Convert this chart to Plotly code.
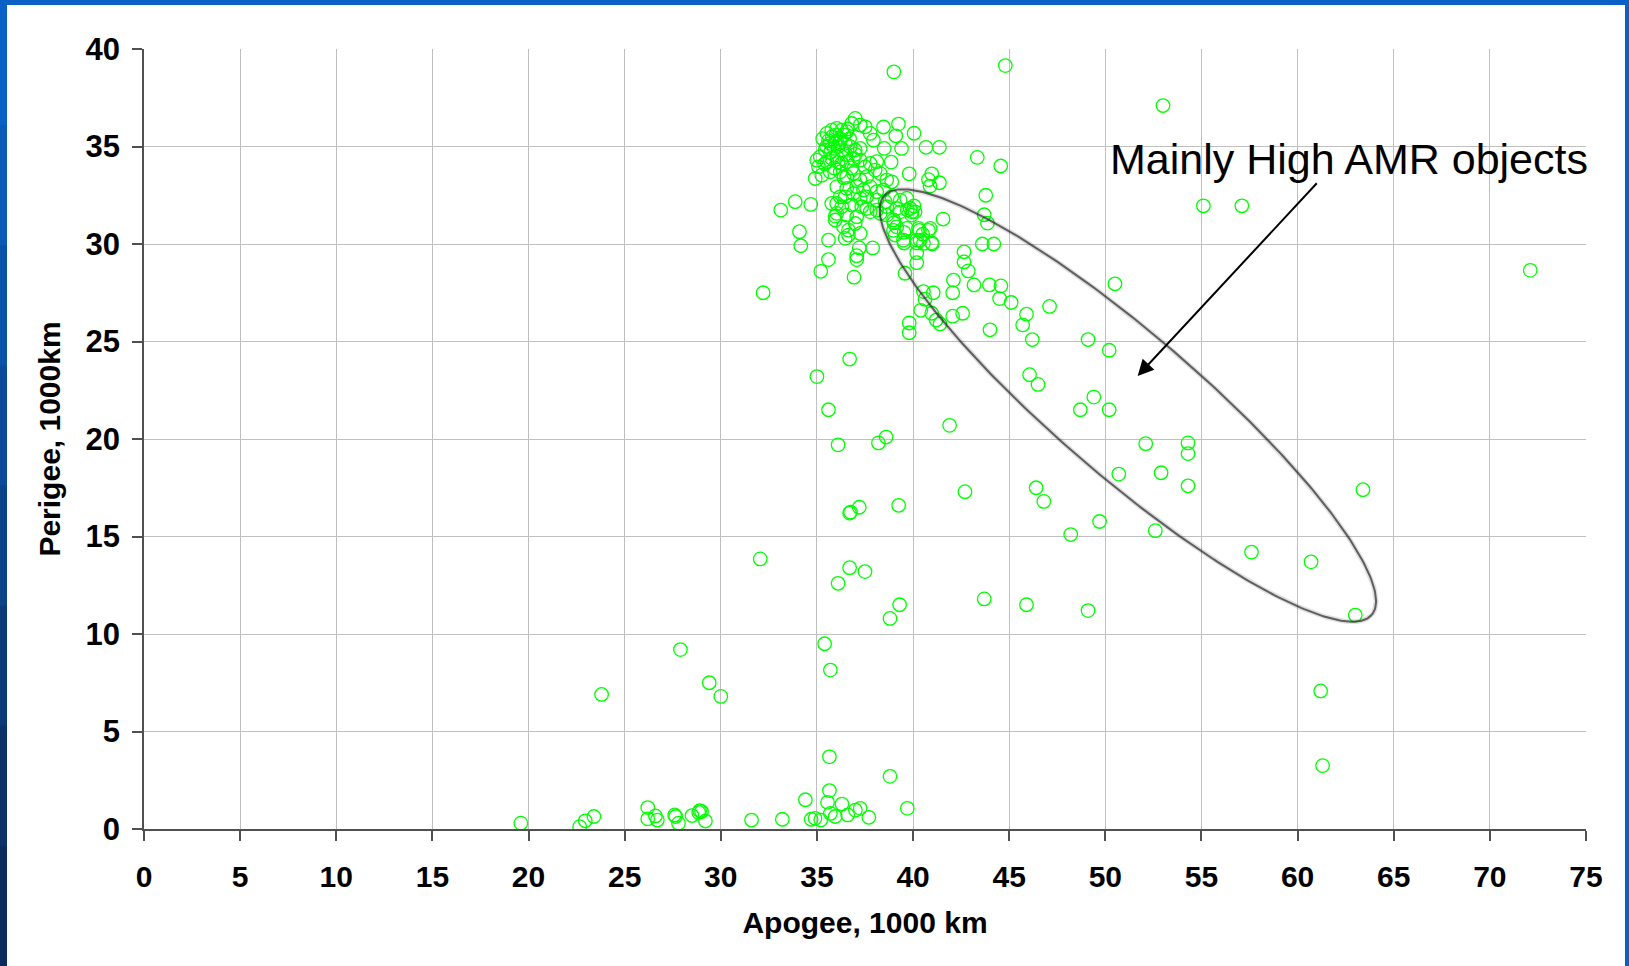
import math
import plotly.graph_objects as go

# ---------------- data (apogee, perigee in 1000 km) ----------------
apogee_low = [19.6, 22.66, 22.95, 23.4, 26.2, 26.2, 26.6, 26.7, 27.6, 27.65, 27.8, 28.5, 28.85, 28.9,
              29.0, 29.2, 31.6, 33.2, 34.4, 34.7, 34.9, 35.2, 35.7, 35.55, 35.65, 35.95, 36.3, 36.6,
              37.0, 37.25, 37.7, 38.8, 39.7, 35.65]
perigee_low = [0.3, 0.12, 0.42, 0.64, 1.1, 0.52, 0.67, 0.46, 0.72, 0.64, 0.3, 0.69, 0.85, 0.94,
               0.9, 0.41, 0.46, 0.5, 1.5, 0.5, 0.55, 0.46, 0.8, 1.37, 1.97, 0.64, 1.28, 0.72,
               0.97, 1.06, 0.6, 2.7, 1.06, 3.7]

apogee_mid = [23.8, 27.9, 29.4, 30.0, 35.4, 35.7, 32.05, 36.7, 37.5, 36.1, 39.3, 38.8, 43.7, 45.9,
              49.1, 61.2, 61.3, 63.0, 60.7, 57.6, 52.6, 49.7, 48.2, 63.4, 54.3, 52.9, 50.7, 54.3,
              54.3, 52.1, 50.2, 48.7, 49.4, 46.5, 46.06, 50.2, 49.1, 46.2, 45.7, 45.9, 44.0, 47.1,
              45.1, 50.5, 55.1, 57.1, 72.1, 53.0, 39.0, 44.8,
              36.7, 36.75, 37.2, 39.25, 42.7, 46.4, 46.8, 36.1, 38.2, 38.6, 41.9, 35.6, 35.0, 36.7,
              39.8, 39.8, 32.2]
perigee_mid = [6.9, 9.2, 7.5, 6.8, 9.5, 8.15, 13.85, 13.4, 13.2, 12.6, 11.5, 10.8, 11.8, 11.5,
               11.2, 7.08, 3.25, 10.97, 13.7, 14.2, 15.3, 15.77, 15.1, 17.4, 17.6, 18.27, 18.2, 19.25,
               19.8, 19.76, 21.5, 21.5, 22.15, 22.8, 23.3, 24.55, 25.1, 25.1, 25.85, 26.4, 25.6, 26.8,
               27.0, 27.96, 31.96, 31.96, 28.65, 37.1, 38.83, 39.15,
               16.2, 16.25, 16.5, 16.6, 17.3, 17.5, 16.8, 19.7, 19.8, 20.1, 20.7, 21.5, 23.2, 24.1,
               25.95, 25.45, 27.5]

apogee_ring = [33.12, 33.87, 34.68, 34.09, 34.16, 35.6, 35.6, 35.2, 36.93, 37.07, 37.07, 37.9, 37.2,
               39.24, 38.46, 39.1, 40.05, 38.5, 39.4, 40.67, 41.37, 38.86, 43.34, 44.56, 39.8, 40.97,
               41.37, 40.88, 40.8, 43.78, 43.7, 43.87, 41.56, 43.6, 44.2, 42.65, 42.65, 42.87, 42.1,
               43.17, 43.97, 44.57, 44.5, 42.06, 39.58, 40.19, 40.19, 40.19, 41.0, 40.5, 40.8, 40.33,
               40.36, 39.53, 39.53, 39.0, 38.98, 39.7, 40.1, 40.05, 40.54, 40.62, 40.4, 40.97, 41.2,
               41.4, 42.06, 42.58, 41.05]
perigee_ring = [31.74, 32.17, 32.03, 30.63, 29.91, 30.2, 29.2, 28.6, 28.3, 29.2, 29.4, 29.8, 29.8,
                36.15, 36.0, 35.55, 35.68, 34.9, 34.9, 34.96, 34.96, 34.2, 34.44, 34.0, 33.6, 33.6,
                33.14, 32.97, 33.3, 32.5, 31.5, 31.07, 31.28, 30.0, 30.0, 29.6, 29.08, 28.62, 28.15,
                27.9, 27.9, 27.85, 27.2, 27.5, 28.5, 29.04, 29.55, 30.05, 30.0, 30.5, 30.7, 30.7,
                30.2, 30.05, 30.6, 31.08, 30.7, 31.75, 31.65, 31.95, 27.56, 27.17, 26.6, 26.45, 26.1,
                25.9, 26.3, 26.45, 27.5]

apogee_core = [35.52, 35.77, 36.03, 36.29, 36.55, 36.81, 36.99, 37.25, 37.51, 37.77, 37.94,
               35.69, 35.95, 36.21, 36.47, 36.73, 36.99, 37.25,
               35.43, 35.17, 34.99, 35.08, 35.52, 35.77, 36.03, 36.29, 36.55, 36.9, 37.25, 37.51, 37.77, 38.11,
               34.91, 35.25, 35.69, 36.21, 36.55, 36.9, 37.25, 37.59, 38.03, 38.29, 38.63, 38.89,
               36.03, 36.55, 37.07, 37.42, 37.77, 38.11, 38.46,
               36.9, 37.25, 37.59, 38.11, 38.55, 38.89, 39.33, 39.67,
               36.03, 35.77, 36.29, 36.81, 37.33, 37.59, 38.11, 38.63, 39.15, 39.85,
               36.03, 36.55, 37.07, 37.77, 38.29, 38.63, 39.33, 39.93, 39.93,
               35.95, 36.38, 36.64, 36.99, 38.98, 39.15, 39.67, 39.07, 39.5, 40.28, 40.89, 40.19, 40.54,
               40.97, 36.47, 36.64, 37.25, 35.95, 36.47, 36.21,
               35.6, 35.8, 36.0, 36.2, 36.4, 35.9, 36.1, 35.7, 36.3, 36.5, 35.5, 35.3, 36.7, 36.1,
               35.9, 35.4, 36.8, 36.4, 37.0, 36.6]
perigee_core = [35.67, 35.84, 35.93, 35.84, 35.76, 36.18, 36.44, 36.1, 36.01, 35.67, 35.33,
                35.16, 35.16, 35.24, 35.16, 34.99, 34.82, 34.9,
                34.82, 34.47, 34.3, 33.96, 34.22, 34.39, 34.47, 34.13, 34.22, 34.39, 34.3, 33.96, 34.13, 34.22,
                33.36, 33.53, 33.7, 33.7, 33.45, 33.62, 33.28, 33.45, 33.79, 33.62, 33.28, 33.19,
                32.94, 32.85, 32.94, 32.77, 32.94, 32.68, 32.77,
                32.59, 32.34, 32.42, 32.25, 32.17, 32.42, 32.25, 32.34,
                32.08, 32.08, 31.91, 32.0, 31.91, 31.82, 31.74, 31.91, 31.82, 31.82,
                31.57, 31.48, 31.4, 31.65, 31.57, 31.48, 31.65, 31.65, 31.48,
                31.23, 30.88, 30.71, 31.05, 31.23, 30.88, 30.8, 30.46, 30.2, 30.8, 30.8, 30.2, 30.03,
                30.06, 30.29, 30.46, 30.54, 31.43, 32.42, 32.42,
                35.3, 35.5, 35.6, 35.4, 35.6, 34.9, 35.0, 34.7, 34.8, 34.6, 35.0, 35.4, 35.4, 34.2,
                33.9, 34.1, 33.9, 33.4, 34.6, 35.9]

apogee = apogee_low + apogee_mid + apogee_ring + apogee_core
perigee = perigee_low + perigee_mid + perigee_ring + perigee_core

x_ticks = list(range(0, 80, 5))
y_ticks = list(range(0, 45, 5))

x_title = "Apogee, 1000 km"
y_title = "Perigee, 1000km"
note_text = "Mainly High AMR objects"

# ---------------- figure ----------------
W, H = 1629, 966
ML, MR, MT, MB = 144, 43, 49, 137
PW, PH = W - ML - MR, H - MT - MB

fig = go.Figure()

fig.add_trace(go.Scatter(
    x=apogee, y=perigee, mode="markers",
    marker=dict(symbol="circle-open", size=13.5, color="#00FF00", line=dict(width=1.3, color="#00FF00")),
    showlegend=False, hoverinfo="x+y",
))

# annotation ellipse (geometry in x-axis units; y scaled by pixel aspect)
ex_c, ey_c = 51.17, 21.72
ea, eb = 16.72, 3.69
eang = math.radians(40.65)
px_per_x = PW / 75.0
px_per_y = PH / 40.0
ex, ey = [], []
for i in range(361):
    t = math.radians(i)
    dx = ea * math.cos(t) * math.cos(eang) - eb * math.sin(t) * math.sin(eang)
    dy = ea * math.cos(t) * math.sin(eang) + eb * math.sin(t) * math.cos(eang)
    ex.append(ex_c + dx)
    ey.append(ey_c - dy * px_per_x / px_per_y)
fig.add_trace(go.Scatter(x=ex, y=ey, mode="lines", line=dict(color="rgba(0,0,0,0.12)", width=5),
                         showlegend=False, hoverinfo="skip"))
fig.add_trace(go.Scatter(x=ex, y=ey, mode="lines", line=dict(color="rgba(40,40,40,0.7)", width=2),
                         showlegend=False, hoverinfo="skip"))

axis_common = dict(
    showgrid=True, gridcolor="#C0C0C0", gridwidth=1,
    showline=True, linecolor="#505050", linewidth=1.5,
    ticks="outside", ticklen=10, tickcolor="#505050", tickwidth=1.5,
    zeroline=False,
)

fig.update_xaxes(
    range=[0, 75], tickvals=x_ticks, ticktext=[str(v) for v in x_ticks],
    tickfont=dict(family="Arial, Liberation Sans", size=30, color="black", weight="bold"),
    ticklabelstandoff=10,
    title=dict(text=x_title, font=dict(family="Arial, Liberation Sans", size=30, color="black", weight="bold"),
               standoff=20),
    **axis_common,
)
fig.update_yaxes(
    range=[0, 40], tickvals=y_ticks, ticktext=[str(v) for v in y_ticks],
    tickfont=dict(family="Arial, Liberation Sans", size=31, color="black", weight="bold"),
    ticklabelstandoff=6,
    title=dict(text=y_title, font=dict(family="Arial, Liberation Sans", size=30, color="black", weight="bold"),
               standoff=16),
    **axis_common,
)

# label + arrow
fig.add_annotation(x=62.66, y=34.36, xref="x", yref="y", text=note_text, showarrow=False,
                   font=dict(family="Arial, Liberation Sans", size=43, color="black"))
fig.add_annotation(x=51.68, y=23.23, ax=61.07, ay=33.19, xref="x", yref="y", axref="x", ayref="y",
                   text="", showarrow=True, arrowhead=2, arrowsize=1.6, arrowwidth=2, arrowcolor="black")

# slide background: blue frame with white panel
def px2paper_x(px):
    return (px - ML) / PW

def px2paper_y(py):
    return (H - MB - py) / PH

shapes = [dict(type="rect", xref="paper", yref="paper", layer="below",
               x0=px2paper_x(7), x1=px2paper_x(1625), y0=px2paper_y(H + 5), y1=px2paper_y(5),
               fillcolor="white", line=dict(width=0))]
band_cols = ["#0A60C4", "#0A5AB8", "#0A52A8", "#0A4A98", "#0B4288", "#0C3A78", "#0D3268", "#0D2B5A"]
nb = len(band_cols)
for i, c in enumerate(band_cols):
    shapes.append(dict(type="rect", xref="paper", yref="paper", layer="below",
                       x0=px2paper_x(-2), x1=px2paper_x(7),
                       y0=px2paper_y(5 + (i + 1) * (H - 5) / nb + 1), y1=px2paper_y(5 + i * (H - 5) / nb),
                       fillcolor=c, line=dict(width=0)))
fig.update_layout(shapes=shapes)

fig.update_layout(
    width=W, height=H,
    margin=dict(l=ML, r=MR, t=MT, b=MB, pad=0),
    paper_bgcolor="#0A60C4", plot_bgcolor="white",
    font=dict(family="Arial, Liberation Sans", color="black"),
    showlegend=False,
)

fig.write_html("out.html", config={"displayModeBar": False},
               post_script="document.body.style.margin='0';document.body.style.overflow='hidden';")
